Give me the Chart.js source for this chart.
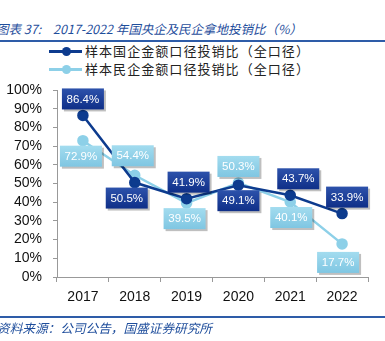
<!DOCTYPE html>
<html>
<head>
<meta charset="utf-8">
<script src="https://cdn.jsdelivr.net/npm/chart.js@4"></script>
<style>
  body { margin: 0; width: 385px; height: 341px; overflow: hidden; background: #fff; position: relative; }
  #chart { position: absolute; left: 0; top: 0; }
  .fit { display: inline-block; transform-origin: 0 50%; white-space: nowrap; }
  .title { position: absolute; left: -4px; top: 19px; font: italic 12.5px "Noto Sans CJK SC", "Liberation Sans", sans-serif; color: #1f4e9c; }
  .rule { position: absolute; left: 0; width: 385px; height: 2px; background: #2e5ca8; }
  .source { position: absolute; left: -3px; top: 318px; font: italic 12.5px "Noto Sans CJK SC", sans-serif; color: #1f4e9c; }
  .leg { position: absolute; left: 49px; height: 16px; font: 13px "Noto Sans CJK SC", sans-serif; color: #222; }
  .leg .ln { position: absolute; left: 0; top: 7px; width: 33px; height: 3px; }
  .leg .dot { position: absolute; left: 13px; top: 4px; width: 9px; height: 9px; border-radius: 50%; }
  .leg .tx { position: absolute; left: 36px; top: -2px; letter-spacing: 1px; }
</style>
</head>
<body>
<div class="title"><span class="fit" data-w="306">图表 37:<span style="margin-left:12px">2017-2022 年国央企及民企拿地投销比（%）</span></span></div>
<div class="rule" style="top:40px"></div>
<div class="leg" style="top:43px"><span class="ln" style="background:#0d3b8e"></span><span class="dot" style="background:#0d3b8e"></span><span class="tx fit" data-w="225">样本国企金额口径投销比（全口径）</span></div>
<div class="leg" style="top:61px"><span class="ln" style="background:#8dd0e8"></span><span class="dot" style="background:#8dd0e8"></span><span class="tx fit" data-w="225">样本民企金额口径投销比（全口径）</span></div>
<canvas id="chart" width="385" height="341"></canvas>
<div class="rule" style="top:316px"></div>
<div class="source"><span class="fit" data-w="215">资料来源：公司公告，国盛证券研究所</span></div>
<script>
const years = ['2017', '2018', '2019', '2020', '2021', '2022'];
const stateRatio = [86.4, 50.5, 41.9, 49.1, 43.7, 33.9];
const privateRatio = [72.9, 54.4, 39.5, 50.3, 40.1, 17.7];

// squeeze/stretch the html texts to the widths they have in the original
document.querySelectorAll('.fit').forEach(el => {
  const w = el.getBoundingClientRect().width;
  el.style.transform = 'scaleX(' + (+el.dataset.w / w) + ')';
});

// label placement per point (above / below) and small nudges
const labelStyle = [
  { pos: ['a', 'b', 'a', 'b', 'a', 'a'], dx: [0, -8, 2, 0, 8, 5], dy: [0, 0, 0, 0, 0, 0],
    top: '#2d52ab', bottom: '#0f2f88' },
  { pos: ['b', 'a', 'b', 'a', 'b', 'b'], dx: [-2, -2, -2, 0, 1, -4], dy: [0, -3, 0, 0, 0, -3],
    top: '#a3dcef', bottom: '#7fc6e2' }
];

const boxLabels = {
  id: 'boxLabels',
  afterDatasetsDraw(chart) {
    const ctx = chart.ctx;
    const w = 42, h = 21;
    ctx.save();
    ctx.font = '11.5px "Liberation Sans", Arial, sans-serif';
    ctx.textAlign = 'center';
    ctx.textBaseline = 'middle';
    chart.data.datasets.forEach((ds, i) => {
      const st = labelStyle[i];
      chart.getDatasetMeta(i).data.forEach((pt, j) => {
        const cx = pt.x + st.dx[j];
        const y0 = st.pos[j] === 'a' ? pt.y - 6 - h + st.dy[j] : pt.y + 5 - st.dy[j];
        const x0 = cx - w / 2;
        ctx.fillStyle = 'rgba(0,0,0,0.25)';
        ctx.fillRect(x0 + 2, y0 + 2, w, h);
        const g = ctx.createLinearGradient(0, y0, 0, y0 + h);
        g.addColorStop(0, st.top);
        g.addColorStop(1, st.bottom);
        ctx.fillStyle = g;
        ctx.fillRect(x0, y0, w, h);
        ctx.fillStyle = '#fff';
        ctx.fillText(ds.data[j].toFixed(1) + '%', cx, y0 + h / 2 + 0.5);
      });
    });
    ctx.restore();
  }
};

new Chart(document.getElementById('chart'), {
  type: 'line',
  data: {
    labels: years,
    datasets: [
      { label: '样本国企金额口径投销比（全口径）', data: stateRatio, borderColor: '#0d3b8e', backgroundColor: '#0d3b8e',
        borderWidth: 2.5, pointRadius: 4.5, pointHoverRadius: 4.5, tension: 0 },
      { label: '样本民企金额口径投销比（全口径）', data: privateRatio, borderColor: '#8dd0e8', backgroundColor: '#8dd0e8',
        borderWidth: 2.5, pointRadius: 4.5, pointHoverRadius: 4.5, tension: 0 }
    ]
  },
  options: {
    responsive: false,
    animation: false,
    events: [],
    layout: { padding: { left: 7, right: 17, top: 90, bottom: 28 } },
    plugins: { legend: { display: false }, tooltip: { enabled: false } },
    scales: {
      x: {
        offset: true,
        afterFit: s => { s.height = 36; },
        grid: { offset: true, drawOnChartArea: false, tickLength: 5, color: '#999' },
        border: { color: '#999' },
        ticks: { color: '#111', padding: 7, font: { size: 14, family: '"Liberation Sans", Arial, sans-serif' } }
      },
      y: {
        min: 0, max: 100,
        afterFit: s => { s.width = 50; },
        grid: { drawOnChartArea: false, tickLength: 4, color: '#999' },
        border: { color: '#999' },
        ticks: { stepSize: 10, autoSkip: false, color: '#111', padding: 11, callback: v => v + '%',
          font: { size: 14, family: '"Liberation Sans", Arial, sans-serif' } }
      }
    }
  },
  plugins: [boxLabels]
});
</script>
</body>
</html>
